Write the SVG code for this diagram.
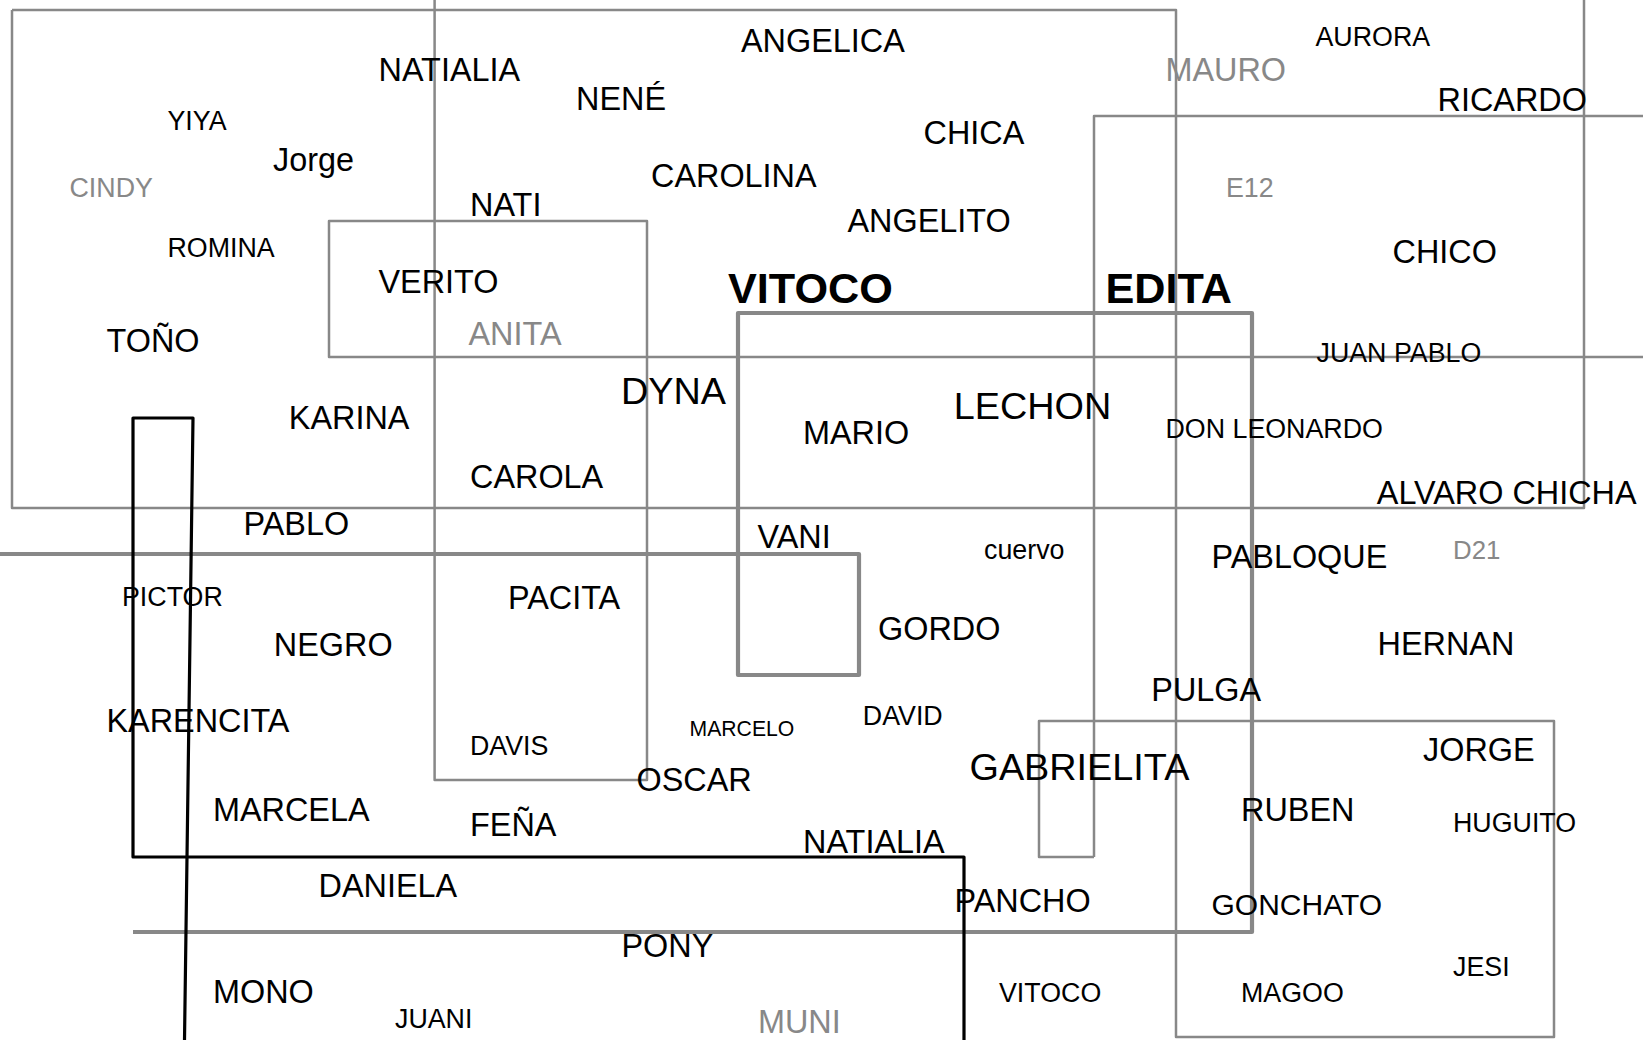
<svg xmlns="http://www.w3.org/2000/svg" width="1643" height="1040" viewBox="0 0 1643 1040">
<style>
text{font-family:"Liberation Sans",Arial,sans-serif;fill:#000}
.g{fill:#888}
.s26{font-size:26.8px}
.s31{font-size:32.4px}
.s37{font-size:37.8px}
.b42{font-size:43.2px;font-weight:bold}
.thin{fill:none;stroke:#888;stroke-width:2.5;stroke-linejoin:round}
.thick{fill:none;stroke:#888;stroke-width:4.2;stroke-linejoin:round}
.blk{fill:none;stroke:#000;stroke-width:3.2;stroke-linejoin:round}
</style>
<rect width="1643" height="1040" fill="#fff"/>
<g id="lines">
<path class="thin" d="M12,10 H1176 V1037 H1554 V721 H1039 V857 H1094"/>
<path class="thin" d="M12,10 V508 H1584 V0"/>
<path class="thin" d="M1094,857 V116 H1643"/>
<path class="thin" d="M434.6,0 V780 H647 V221 H329 V357 H1643"/>
<path class="thick" d="M0,554 H859 V675 H738 V313 H1252 V932 H133"/>
<path class="blk" d="M184.5,1040 L193,418 H133 V857 H964 V1040"/>
</g>
<g id="labels">
<text class="s31" x="378.5" y="81">NATIALIA</text>
<text class="s26" x="167.5" y="130">YIYA</text>
<text class="s31" x="273" y="170.7">Jorge</text>
<text class="s26 g" x="69.5" y="196.7">CINDY</text>
<text class="s26" x="167.5" y="256.7">ROMINA</text>
<text class="s31" x="470" y="216">NATI</text>
<text class="s31" x="378.5" y="292.7">VERITO</text>
<text class="s31" x="106.5" y="351.7">TOÑO</text>
<text class="s31 g" x="468.5" y="345">ANITA</text>
<text class="s31" x="741" y="51.7">ANGELICA</text>
<text class="s31" x="576" y="110">NENÉ</text>
<text class="s31" x="923.5" y="144">CHICA</text>
<text class="s31" x="651" y="186.7">CAROLINA</text>
<text class="s31" x="847.5" y="231.7">ANGELITO</text>
<text class="b42" x="728" y="303.3">VITOCO</text>
<text class="s26" x="1315.5" y="45.7">AURORA</text>
<text class="s31 g" x="1165.5" y="80.7">MAURO</text>
<text class="s31" x="1437.5" y="110.7">RICARDO</text>
<text class="s26 g" x="1226" y="196.7">E12</text>
<text class="s31" x="1392.5" y="262.7">CHICO</text>
<text class="b42" x="1105.5" y="303.3">EDITA</text>
<text class="s26" x="1316.5" y="361.7">JUAN PABLO</text>
<text class="s31" x="288.8" y="429.3">KARINA</text>
<text class="s31" x="470" y="488.3">CAROLA</text>
<text class="s31" x="243.5" y="535">PABLO</text>
<text class="s26" x="122" y="606">PICTOR</text>
<text class="s31" x="273.8" y="656">NEGRO</text>
<text class="s31" x="508" y="609.3">PACITA</text>
<text class="s37" x="621" y="404">DYNA</text>
<text class="s37" x="953.8" y="419.3">LECHON</text>
<text class="s31" x="803" y="444">MARIO</text>
<text class="s31" x="757.5" y="548.3">VANI</text>
<text class="s26" x="984" y="559.3">cuervo</text>
<text class="s31" x="878" y="640">GORDO</text>
<text class="s26" x="1165.5" y="438.3">DON LEONARDO</text>
<text class="s31" x="1376.8" y="504">ALVARO CHICHA</text>
<text class="s31" x="1211.5" y="567.7">PABLOQUE</text>
<text class="g" style="font-size:25.8px" x="1453" y="559.3">D21</text>
<text class="s31" x="1377.5" y="655">HERNAN</text>
<text class="s31" x="1151.3" y="700.7">PULGA</text>
<text class="s31" x="106.5" y="731.7">KARENCITA</text>
<text class="s26" x="470" y="755">DAVIS</text>
<text class="s31" x="213" y="821">MARCELA</text>
<text class="s31" x="470" y="836">FEÑA</text>
<text class="s31" x="318.5" y="897.3">DANIELA</text>
<text class="s31" x="213" y="1002.7">MONO</text>
<text class="s26" x="395" y="1028.3">JUANI</text>
<text style="font-size:21.2px" x="689.5" y="735.7">MARCELO</text>
<text class="s26" x="862.8" y="725">DAVID</text>
<text class="s31" x="636.5" y="791">OSCAR</text>
<text class="s37" x="969.5" y="780">GABRIELITA</text>
<text class="s31" x="803" y="852.7">NATIALIA</text>
<text class="s31" x="954.5" y="911.7">PANCHO</text>
<text class="s31" x="621.5" y="956.7">PONY</text>
<text class="s26" x="999" y="1001.7">VITOCO</text>
<text class="s31 g" x="758" y="1032.7">MUNI</text>
<text class="s31" x="1423" y="761">JORGE</text>
<text class="s31" x="1241" y="821">RUBEN</text>
<text class="s26" x="1453" y="831.7">HUGUITO</text>
<text style="font-size:30px" x="1211.5" y="915">GONCHATO</text>
<text class="s26" x="1453" y="976">JESI</text>
<text class="s26" x="1241" y="1001.7">MAGOO</text>
</g>
</svg>
